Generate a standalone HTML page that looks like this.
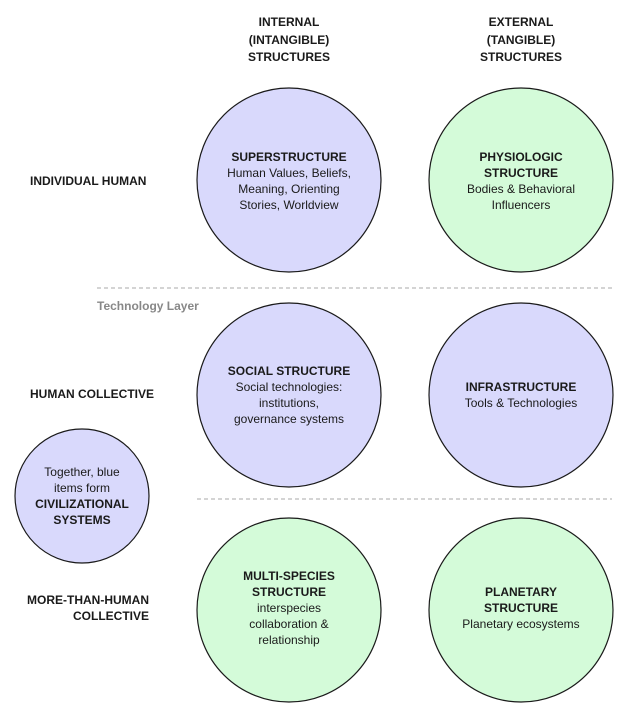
<!DOCTYPE html>
<html><head><meta charset="utf-8"><style>
html,body{margin:0;padding:0;background:#fff}
svg{display:block}
text{font-family:"Liberation Sans",sans-serif;font-size:12px;fill:#1a1a1a}
.b{font-weight:bold}
</style></head><body>
<svg width="629" height="716" viewBox="0 0 629 716" xmlns="http://www.w3.org/2000/svg">
<g text-anchor="middle" class="b">
<text x="289" y="26" class="b">INTERNAL</text>
<text x="289" y="44" class="b">(INTANGIBLE)</text>
<text x="289" y="61" class="b">STRUCTURES</text>
<text x="521" y="26" class="b">EXTERNAL</text>
<text x="521" y="44" class="b">(TANGIBLE)</text>
<text x="521" y="61" class="b">STRUCTURES</text>
</g>
<text x="30" y="185" class="b">INDIVIDUAL HUMAN</text>
<text x="30" y="398" class="b">HUMAN COLLECTIVE</text>
<text x="149" y="604" class="b" text-anchor="end">MORE-THAN-HUMAN</text>
<text x="149" y="620" class="b" text-anchor="end">COLLECTIVE</text>
<line x1="97" y1="288" x2="612" y2="288" stroke="#aaa" stroke-dasharray="4,3"/>
<line x1="197" y1="499" x2="612" y2="499" stroke="#aaa" stroke-dasharray="4,3"/>
<text x="97" y="310" class="b" style="fill:#888">Technology Layer</text>
<g stroke="#1a1a1a" stroke-width="1.2">
<circle cx="289" cy="180" r="92" fill="#d9d9fc"/>
<circle cx="521" cy="180" r="92" fill="#d4fbd9"/>
<circle cx="289" cy="395" r="92" fill="#d9d9fc"/>
<circle cx="521" cy="395" r="92" fill="#d9d9fc"/>
<circle cx="289" cy="610" r="92" fill="#d4fbd9"/>
<circle cx="521" cy="610" r="92" fill="#d4fbd9"/>
<circle cx="82" cy="496" r="67" fill="#d9d9fc"/>
</g>
<g text-anchor="middle">
<text x="289" y="161" class="b">SUPERSTRUCTURE</text>
<text x="289" y="177">Human Values, Beliefs,</text>
<text x="289" y="193">Meaning, Orienting</text>
<text x="289" y="209">Stories, Worldview</text>
<text x="521" y="161" class="b">PHYSIOLOGIC</text>
<text x="521" y="177" class="b">STRUCTURE</text>
<text x="521" y="193">Bodies &amp; Behavioral</text>
<text x="521" y="209">Influencers</text>
<text x="289" y="375" class="b">SOCIAL STRUCTURE</text>
<text x="289" y="391">Social technologies:</text>
<text x="289" y="407">institutions,</text>
<text x="289" y="423">governance systems</text>
<text x="521" y="391" class="b">INFRASTRUCTURE</text>
<text x="521" y="407">Tools &amp; Technologies</text>
<text x="289" y="580" class="b">MULTI-SPECIES</text>
<text x="289" y="596" class="b">STRUCTURE</text>
<text x="289" y="612">interspecies</text>
<text x="289" y="628">collaboration &amp;</text>
<text x="289" y="644">relationship</text>
<text x="521" y="596" class="b">PLANETARY</text>
<text x="521" y="612" class="b">STRUCTURE</text>
<text x="521" y="628">Planetary ecosystems</text>
<text x="82" y="476">Together, blue</text>
<text x="82" y="492">items form</text>
<text x="82" y="508" class="b">CIVILIZATIONAL</text>
<text x="82" y="524" class="b">SYSTEMS</text>
</g>
</svg>
</body></html>
